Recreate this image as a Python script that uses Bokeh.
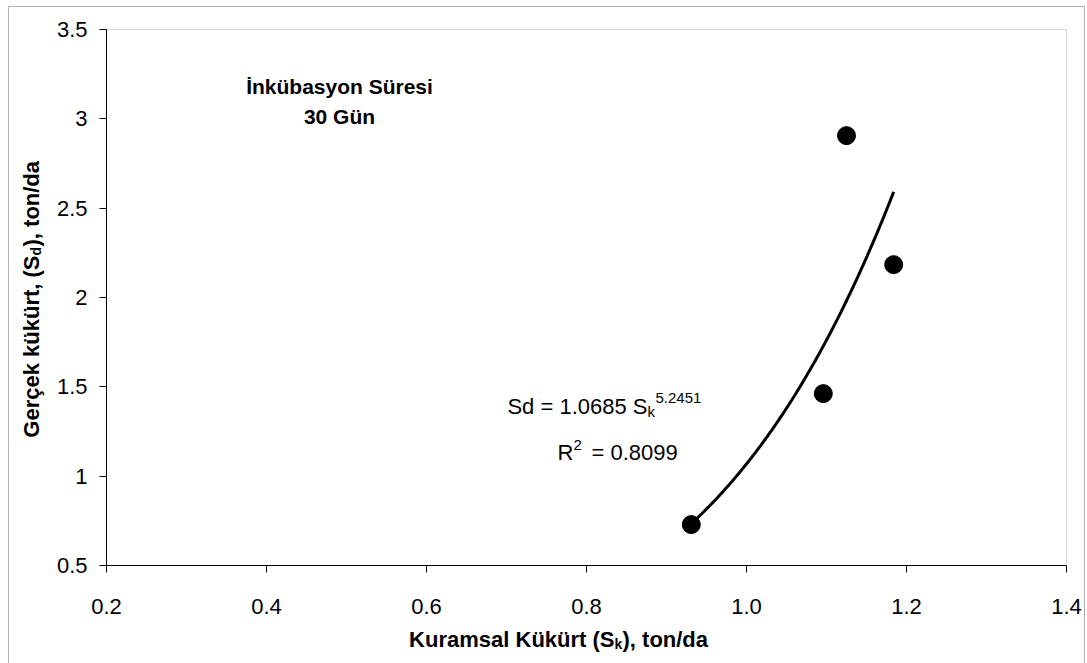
import numpy as np
from bokeh.plotting import figure
from bokeh.models import Range1d, FixedTicker, Label, BoxAnnotation
from bokeh.embed import file_html
from bokeh.resources import INLINE

# Measured sulphur: theoretical (Sk) vs. actual (Sd), ton/da
sk_values = [0.931, 1.096, 1.125, 1.184]
sd_values = [0.729, 1.462, 2.906, 2.184]

# Power-law fit Sd = a * Sk^b
fit_coef = 1.0685
fit_exp = 5.2451
r_squared = 0.8099

x_ticks = [0.2, 0.4, 0.6, 0.8, 1.0, 1.2, 1.4]
x_tick_labels = ["0.2", "0.4", "0.6", "0.8", "1.0", "1.2", "1.4"]
y_ticks = [0.5, 1.0, 1.5, 2.0, 2.5, 3.0, 3.5]
y_tick_labels = ["0.5", "1", "1.5", "2", "2.5", "3", "3.5"]

FONT = "Liberation Sans"
W, H = 1087, 663
# pixel box of the plot area inside the canvas
LEFT, RIGHT, TOP, BOTTOM = 106, 1066, 29, 565
X0, X1, Y0, Y1 = 0.2, 1.4, 0.5, 3.5


def cx(px):
    """canvas pixel -> data x"""
    return X0 + (px - LEFT) * (X1 - X0) / (RIGHT - LEFT)


def cy(py):
    """canvas pixel -> data y"""
    return Y0 + (BOTTOM - py) * (Y1 - Y0) / (BOTTOM - TOP)


# the frame spans the whole canvas so that titles and notes can sit anywhere;
# the axes are pinned to the plot-area edges
p = figure(width=W, height=H,
           x_range=Range1d(cx(0), cx(W)), y_range=Range1d(cy(H), cy(0)),
           min_border=0, min_border_left=0, min_border_right=0,
           min_border_top=0, min_border_bottom=0,
           output_backend="svg", toolbar_location=None)

p.background_fill_color = "white"
p.border_fill_color = "white"
p.outline_line_color = None
p.xgrid.visible = False
p.ygrid.visible = False

for ax in (p.xaxis[0], p.yaxis[0]):
    ax.axis_line_color = "black"
    ax.axis_line_width = 1
    ax.major_tick_line_color = "black"
    ax.major_tick_in = 0
    ax.major_tick_out = 7
    ax.minor_tick_line_color = None
    ax.major_label_text_font = FONT
    ax.major_label_text_font_size = "22px"
    ax.major_label_text_color = "black"

p.xaxis[0].fixed_location = Y0
p.xaxis[0].bounds = (X0, X1)
p.xaxis[0].ticker = FixedTicker(ticks=x_ticks)
p.xaxis[0].major_label_overrides = dict(zip(x_ticks, x_tick_labels))
p.xaxis[0].major_label_standoff = 26

p.yaxis[0].fixed_location = X0
p.yaxis[0].bounds = (Y0, Y1)
p.yaxis[0].ticker = FixedTicker(ticks=y_ticks)
p.yaxis[0].major_label_overrides = dict(zip(y_ticks, y_tick_labels))
p.yaxis[0].major_label_standoff = 12

# plot-area border (grey; the black axis lines sit on top of its left/bottom edges)
p.add_layout(BoxAnnotation(left=X0, right=X1, bottom=Y0, top=Y1,
                           fill_alpha=0, line_color="#808080", line_width=1,
                           level="underlay"))

# chart-area border
p.add_layout(BoxAnnotation(left=cx(8), right=cx(1084), top=cy(6), bottom=cy(700),
                           fill_alpha=0, line_color="black", line_width=1,
                           level="underlay"))


def add_text(text, px, py, size=21, bold=False, align="left", angle=0.0, dx=0, dy=0):
    p.add_layout(Label(x=cx(px), y=cy(py), text=text, text_font=FONT,
                       text_font_size=f"{size}px",
                       text_font_style="bold" if bold else "normal",
                       text_align=align, text_baseline="alphabetic",
                       angle=angle, x_offset=dx, y_offset=dy,
                       text_color="black"))


# trend line over the observed Sk span
xs = np.linspace(min(sk_values), max(sk_values), 200)
ys = fit_coef * xs ** fit_exp
p.line(xs, ys, line_color="black", line_width=3)

# observations
p.scatter(sk_values, sd_values, size=18, fill_color="black", line_color="black")

# incubation period note
add_text("İnkübasyon Süresi", 339, 86, bold=True, align="center")
add_text("30 Gün", 339, 116, bold=True, align="center")

# fit equation
add_text(f"Sd = {fit_coef} S", 647, 406, size=22, align="right")
add_text("k", 647, 406, size=15, dy=-5)
add_text(f"{fit_exp}", 655, 406, size=15, dy=9)
add_text("R", 573, 452, size=22, align="right")
add_text("2", 573, 452, size=15, dy=8)
add_text(f"= {r_squared}", 591, 452, size=22)

# x-axis title with subscript
add_text("Kuramsal Kükürt (S", 614, 639, size=22, bold=True, align="right")
add_text("k", 614, 639, size=14, bold=True, dy=-4)
add_text("), ton/da", 622, 639, size=22, bold=True)

# y-axis title (rotated) with subscript
add_text("Gerçek kükürt, (S", 31, 255, size=22, bold=True, align="right", angle=np.pi / 2)
add_text("d", 31, 255, size=14, bold=True, angle=np.pi / 2, dx=4)
add_text("), ton/da", 31, 246, size=22, bold=True, angle=np.pi / 2)

open("out.html", "w").write(file_html(p, INLINE))
